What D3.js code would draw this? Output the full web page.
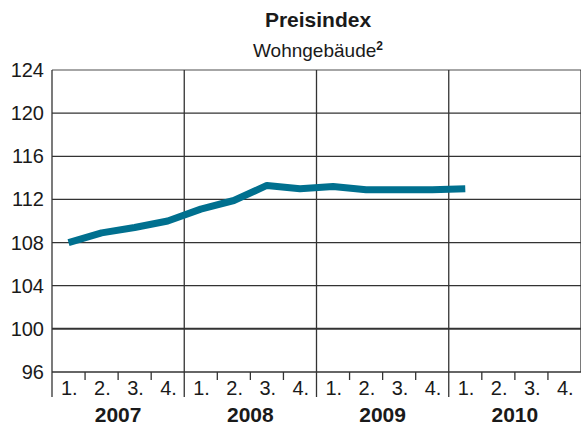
<!DOCTYPE html>
<html>
<head>
<meta charset="utf-8">
<script src="https://cdn.jsdelivr.net/npm/d3@7"></script>
<style>
  body { margin: 0; background: #fff; }
  text { font-family: "Liberation Sans", Arial, sans-serif; fill: #1a1a1a; }
</style>
</head>
<body>
<svg width="581" height="430"></svg>
<script>
const years = ["2007", "2008", "2009", "2010"];
const quarterLabels = ["1.", "2.", "3.", "4."];
const yTicks = [96, 100, 104, 108, 112, 116, 120, 124];
// Preisindex je Quartal, 2007 Q1 bis 2010 Q1
const values = [108.0, 108.9, 109.4, 110.0, 111.1, 111.9, 113.3, 113.0, 113.2, 112.9, 112.9, 112.9, 113.0];

const svg = d3.select("svg");
const margin = { left: 52, right: 0, top: 70, bottom: 58 };
const width = 581 - margin.left - margin.right;
const height = 430 - margin.top - margin.bottom;

const g = svg.append("g").attr("transform", `translate(${margin.left},${margin.top})`);

const nQ = years.length * 4;
const x = d3.scaleLinear().domain([0, nQ]).range([0, width]);
const y = d3.scaleLinear().domain([96, 124]).range([height, 0]);

// horizontal grid
g.selectAll("line.h")
  .data(yTicks)
  .join("line")
  .attr("x1", 0)
  .attr("x2", width)
  .attr("y1", (d) => y(d))
  .attr("y2", (d) => y(d))
  .style("stroke", (d) => (d === 124 ? "#888" : "#333"))
  .style("stroke-width", (d) => (d === 100 ? 2 : 1.3));

// year separators
g.selectAll("line.v")
  .data(d3.range(0, years.length + 1))
  .join("line")
  .attr("x1", (d) => x(d * 4))
  .attr("x2", (d) => x(d * 4))
  .attr("y1", 0)
  .attr("y2", (d) => (d === years.length ? height : height + 25))
  .style("stroke", "#333")
  .style("stroke-width", 1.3);

// quarter ticks
g.selectAll("line.q")
  .data(d3.range(0, nQ).filter((i) => i % 4 !== 0))
  .join("line")
  .attr("x1", (d) => x(d))
  .attr("x2", (d) => x(d))
  .attr("y1", height)
  .attr("y2", height + 8)
  .style("stroke", "#333")
  .style("stroke-width", 1.3);

// y labels
g.selectAll("text.y")
  .data(yTicks)
  .join("text")
  .attr("x", -8)
  .attr("y", (d) => y(d) + 7)
  .attr("text-anchor", "end")
  .style("font-size", "20px")
  .text((d) => d);

// quarter labels
g.selectAll("text.q")
  .data(d3.range(0, nQ))
  .join("text")
  .attr("x", (d) => x(d) + 9)
  .attr("y", height + 23)
  .style("font-size", "20px")
  .text((d) => quarterLabels[d % 4]);

// year labels
g.selectAll("text.yr")
  .data(years)
  .join("text")
  .attr("x", (d, i) => x(i * 4 + 2))
  .attr("y", height + 50)
  .attr("text-anchor", "middle")
  .style("font-size", "21px")
  .style("font-weight", "bold")
  .text((d) => d);

// line
const line = d3.line()
  .x((d, i) => x(i + 0.5))
  .y((d) => y(d));

g.append("path")
  .datum(values)
  .attr("d", line)
  .style("fill", "none")
  .style("stroke", "#00708f")
  .style("stroke-width", 7)
  .style("stroke-linejoin", "round");

// titles
svg.append("text")
  .attr("x", 318)
  .attr("y", 27)
  .attr("text-anchor", "middle")
  .style("font-size", "21px")
  .style("font-weight", "bold")
  .text("Preisindex");

const sub = svg.append("text")
  .attr("x", 318)
  .attr("y", 57)
  .attr("text-anchor", "middle")
  .style("font-size", "19px");
sub.append("tspan").text("Wohngebäude");
sub.append("tspan")
  .attr("dy", -7)
  .style("font-size", "12px")
  .style("font-weight", "bold")
  .text("2");
</script>
</body>
</html>
